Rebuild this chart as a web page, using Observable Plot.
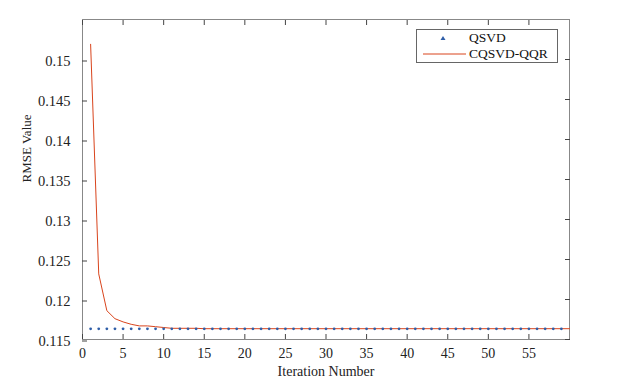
<!DOCTYPE html>
<html>
<head>
<meta charset="utf-8">
<script src="https://cdn.jsdelivr.net/npm/d3@7"></script>
<script src="https://cdn.jsdelivr.net/npm/@observablehq/plot@0.6"></script>
<style>
  html, body { margin: 0; padding: 0; background: #fff; }
  #wrap { position: relative; width: 628px; height: 384px; font-family: "Liberation Serif", serif; }
  #chart svg, #chart svg text, #chart svg g { font-family: "Liberation Serif", serif !important; font-variant: normal !important; font-variant-numeric: normal !important; }
  #legend { position: absolute; left: 416px; top: 29px; width: 142px; height: 34px; border: 1px solid #666; background: #fff; box-sizing: border-box; font-size: 13.5px; color: #111; }
  .row { position: absolute; left: 0; height: 16px; line-height: 16px; }
  .lab { position: absolute; left: 52px; white-space: nowrap; }
</style>
</head>
<body>
<div id="wrap">
  <div id="chart"></div>
  <div id="legend">
    <div class="row" style="top:0px;width:140px">
      <svg width="50" height="16" style="position:absolute;left:0;top:0"><path d="M26,6 L28.5,10 L23.5,10 Z" fill="#2f5ea8"/></svg>
      <span class="lab">QSVD</span>
    </div>
    <div class="row" style="top:16px;width:140px">
      <svg width="50" height="16" style="position:absolute;left:0;top:0"><line x1="6" x2="49" y1="8" y2="8" stroke="#d9441c" stroke-width="1"/></svg>
      <span class="lab">CQSVD-QQR</span>
    </div>
  </div>
</div>
<script>
const xTicks = [0, 5, 10, 15, 20, 25, 30, 35, 40, 45, 50, 55];
const yTicks = [0.115, 0.12, 0.125, 0.13, 0.135, 0.14, 0.145, 0.15];

const qsvdIter = d3.range(1, 60);
const qsvdValue = qsvdIter.map(() => 0.11633);

const cqIter = d3.range(1, 61);
const cqHead = [0.1519, 0.1232, 0.1186, 0.1176, 0.1172, 0.1169, 0.1167, 0.1167, 0.1166, 0.1165, 0.1164, 0.1164, 0.1164, 0.1164];
const cqValue = cqIter.map((d, i) => i < cqHead.length ? cqHead[i] : 0.11635);

const qsvd = qsvdIter.map((x, i) => ({x, y: qsvdValue[i]}));
const cq = cqIter.map((x, i) => ({x, y: cqValue[i]}));

const fmt = d => String(+d.toFixed(3));

const chart = Plot.plot({
  width: 628,
  height: 384,
  marginLeft: 82,
  marginRight: 59,
  marginTop: 19,
  marginBottom: 45,
  style: { fontFamily: "'Liberation Serif', serif", fontSize: "14.5px", color: "#222", background: "#fff" },
  x: { domain: [0, 60] },
  y: { domain: [0.115, 0.155] },
  marks: [
    Plot.frame({ stroke: "#888" }),
    Plot.axisX({ ticks: xTicks, tickSize: -5, tickPadding: 14, tickFormat: d => d, stroke: "#444", label: null, fontSize: 14, fontVariant: "normal" }),
    Plot.axisX({ anchor: "top", ticks: xTicks, tickSize: -5, text: null, stroke: "#444", label: null }),
    Plot.axisY({ ticks: yTicks, tickSize: -5, tickPadding: 17, dy: 1.5, tickFormat: fmt, stroke: "#444", label: null, fontSize: 14.5, fontVariant: "normal" }),
    Plot.axisY({ anchor: "right", ticks: yTicks, tickSize: -5, text: null, stroke: "#444", label: null }),
    Plot.text(["Iteration Number"], { frameAnchor: "bottom", dy: 36, fontSize: 14, style: "letter-spacing:0.8px" }),
    Plot.text(["RMSE Value"], { frameAnchor: "left", dx: -56, dy: 3, rotate: -90, fontSize: 13 }),
    Plot.line(cq, { x: "x", y: "y", stroke: "#d9441c", strokeWidth: 1 }),
    Plot.dot(qsvd, { x: "x", y: "y", r: 1.4, fill: "#2f5ea8", stroke: "none" })
  ]
});
document.getElementById("chart").appendChild(chart);
</script>
</body>
</html>
